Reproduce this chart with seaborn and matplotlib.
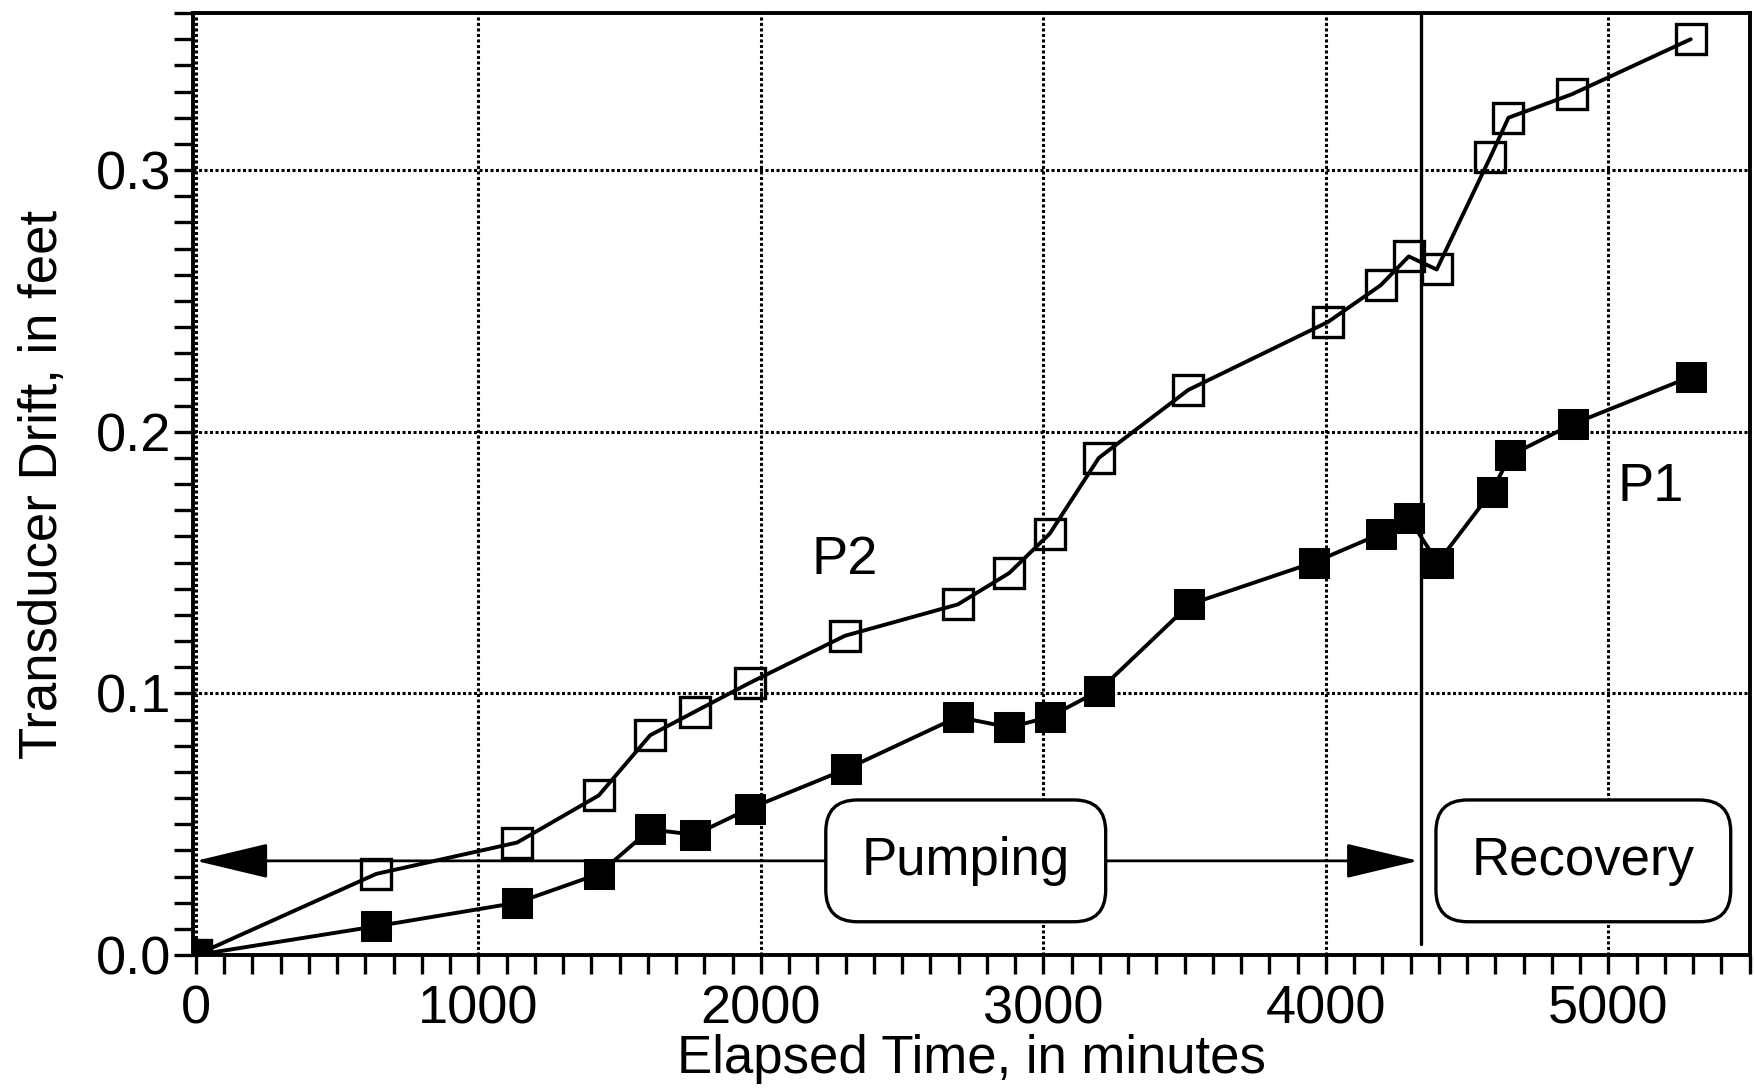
import matplotlib
matplotlib.use("Agg")
import matplotlib.pyplot as plt
import seaborn as sns
import pandas as pd
from matplotlib.ticker import MultipleLocator

# ---- data ----
p2_time = [0, 638, 1137, 1426, 1608, 1766, 1960, 2297, 2697, 2879, 3022, 3196,
           3513, 4008, 4194, 4293, 4392, 4582, 4646, 4871, 5291]
p2_drift = [0.0, 0.031, 0.043, 0.061, 0.084, 0.093, 0.104, 0.122, 0.134, 0.146,
            0.161, 0.190, 0.216, 0.242, 0.256, 0.267, 0.262, 0.305, 0.320, 0.329, 0.350]
p1_time = [0, 638, 1137, 1426, 1608, 1766, 1960, 2301, 2697, 2879, 3022, 3196,
           3517, 3956, 4194, 4293, 4396, 4586, 4653, 4875, 5291]
p1_drift = [0.0, 0.011, 0.020, 0.031, 0.048, 0.046, 0.056, 0.071, 0.091, 0.087,
            0.091, 0.101, 0.134, 0.150, 0.161, 0.167, 0.150, 0.177, 0.191, 0.203, 0.221]
pump_end = 4337
arrow_level = 0.036
x_ticks = [0, 1000, 2000, 3000, 4000, 5000]
y_ticks = [0.0, 0.1, 0.2, 0.3]
y_tick_labels = ["0.0", "0.1", "0.2", "0.3"]

df2 = pd.DataFrame({"t": p2_time, "d": p2_drift})
df1 = pd.DataFrame({"t": p1_time, "d": p1_drift})

sns.set_theme(style="ticks")
plt.rcParams["font.family"] = ["Liberation Sans", "DejaVu Sans"]

fig = plt.figure(figsize=(17.55, 10.89), dpi=100)
ax = fig.add_axes([0.110, 0.123, 0.887, 0.865])

sns.lineplot(data=df2, x="t", y="d", ax=ax, color="black", lw=2.8,
             marker="s", markersize=21, markerfacecolor="none",
             markeredgecolor="black", markeredgewidth=2.4, zorder=4)
sns.lineplot(data=df1, x="t", y="d", ax=ax, color="black", lw=2.8,
             marker="s", markersize=21, markerfacecolor="black",
             markeredgecolor="black", zorder=4)

ax.set_xlim(-10, 5500)
ax.set_ylim(0, 0.36)
ax.set_xticks(x_ticks)
ax.set_yticks(y_ticks)
ax.set_yticklabels(y_tick_labels)
ax.xaxis.set_minor_locator(MultipleLocator(100))
ax.yaxis.set_minor_locator(MultipleLocator(0.01))
ax.tick_params(axis="both", which="major", labelsize=39, length=14, width=2.4,
               direction="out", color="black", labelcolor="black")
ax.tick_params(axis="both", which="minor", length=14, width=2.4, direction="out",
               color="black")
ax.tick_params(axis="x", pad=7)
ax.tick_params(axis="y", pad=2)
ax.grid(True, which="major", color="black", linestyle=(0, (1, 0.8)), linewidth=2.2)
for s in ax.spines.values():
    s.set_color("black")
    s.set_linewidth(2.8)

ax.set_xlabel("Elapsed Time, in minutes", fontsize=38, color="black", labelpad=0)
ax.set_ylabel("Transducer Drift, in feet", fontsize=38, color="black", labelpad=20)

ax.axvline(pump_end, ymin=0.012, ymax=1, color="black", lw=2.4, zorder=3)

ax.annotate("", xy=(0, arrow_level), xytext=(pump_end - 10, arrow_level),
            arrowprops=dict(arrowstyle="<|-|>,head_length=4.6,head_width=1.1",
                            mutation_scale=10, color="black", lw=2.0,
                            shrinkA=0, shrinkB=0), zorder=3)

box = dict(boxstyle="round,pad=0.68,rounding_size=0.6", fc="white", ec="black", lw=2.4)
ax.text(2725, arrow_level, "Pumping", fontsize=38, ha="center", va="center",
        bbox=box, zorder=5, color="black")
ax.text(4911, arrow_level, "Recovery", fontsize=38, ha="center", va="center",
        bbox=box, zorder=5, color="black")
ax.text(2297, 0.151, "P2", fontsize=39, ha="center", va="center", color="black")
ax.text(5149, 0.179, "P1", fontsize=39, ha="center", va="center", color="black")

fig.savefig("out.png", dpi=100, facecolor="white")
